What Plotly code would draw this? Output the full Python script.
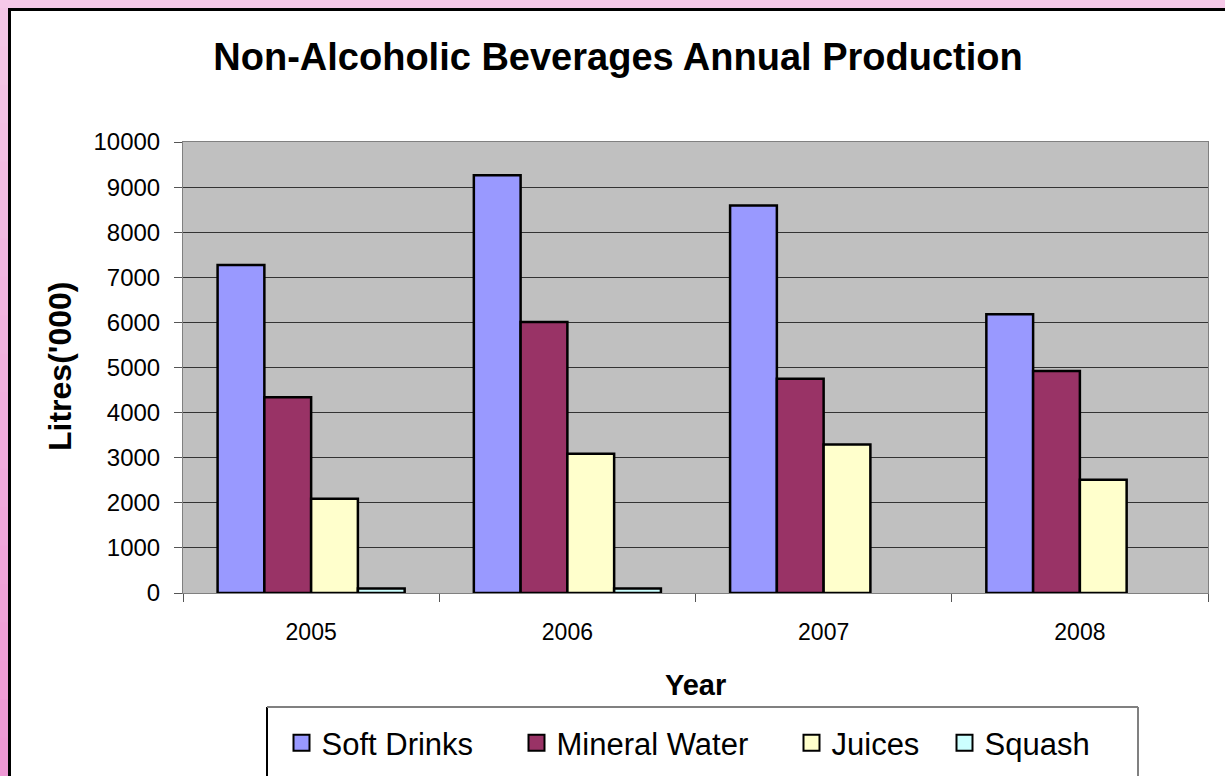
import plotly.graph_objects as go

# ---------------- data ----------------
years = ["2005", "2006", "2007", "2008"]
soft_drinks = [7270, 9260, 8590, 6180]
mineral_water = [4340, 6010, 4750, 4920]
juices = [2090, 3090, 3290, 2510]
squash = [100, 100, None, None]

series_names = ["Soft Drinks", "Mineral Water", "Juices", "Squash"]
series_values = [soft_drinks, mineral_water, juices, squash]
series_colors = ["#9999FF", "#993366", "#FFFFCC", "#CCFFFF"]
legend_widths = [190, 230, 108, 130]

y_ticks = [0, 1000, 2000, 3000, 4000, 5000, 6000, 7000, 8000, 9000, 10000]

# ---------------- layout geometry (pixels) ----------------
W_PX, H_PX = 1225, 776
L, R, T, B = 183, 17, 142, 183
PW = W_PX - L - R
PH = H_PX - T - B


def xp(px):
    return (px - L) / PW


def yp(py):
    return 1 - (py - T) / PH


FONT = "Arial, 'Liberation Sans', sans-serif"

fig = go.Figure()

for name, vals, col in zip(series_names, series_values, series_colors):
    fig.add_trace(go.Bar(
        x=years, y=vals, name=name,
        marker=dict(color=col, line=dict(color="#000000", width=2.5)),
        showlegend=False,
    ))

# legend entries (larger square swatches)
for name, col, lw in zip(series_names, series_colors, legend_widths):
    fig.add_trace(go.Scatter(
        x=[None], y=[None], mode="markers", name=name,
        marker=dict(symbol="square", size=16, color=col,
                    line=dict(color="#000000", width=2)),
        legendwidth=lw,
    ))

shapes = []
# pink surround and black border of the white chart area
shapes.append(dict(type="rect", xref="paper", yref="paper",
                   x0=xp(-2), x1=xp(W_PX + 5), y0=yp(-2), y1=yp(8),
                   fillcolor="#F5C9E8", line=dict(width=0), layer="above"))
n_seg = 20
c_top = (0xF4, 0xC6, 0xE6)
c_bot = (0xEE, 0x98, 0xD4)
for i in range(n_seg):
    f = i / (n_seg - 1)
    c = tuple(round(a + (b - a) * f) for a, b in zip(c_top, c_bot))
    y0 = 8 + (H_PX - 8) * i / n_seg
    y1 = 8 + (H_PX - 8) * (i + 1) / n_seg + 1
    shapes.append(dict(type="rect", xref="paper", yref="paper",
                       x0=xp(-2), x1=xp(8), y0=yp(y0), y1=yp(y1),
                       fillcolor="rgb(%d,%d,%d)" % c, line=dict(width=0),
                       layer="above"))
shapes.append(dict(type="line", xref="paper", yref="paper",
                   x0=xp(9.5), x1=xp(9.5), y0=yp(8), y1=yp(H_PX + 5),
                   line=dict(color="#000000", width=3), layer="above"))
shapes.append(dict(type="line", xref="paper", yref="paper",
                   x0=xp(8), x1=xp(W_PX + 5), y0=yp(9.5), y1=yp(9.5),
                   line=dict(color="#000000", width=3), layer="above"))
# legend box
shapes.append(dict(type="line", xref="paper", yref="paper",
                   x0=xp(267), x1=xp(267), y0=yp(707), y1=yp(H_PX + 5),
                   line=dict(color="#000000", width=2), layer="above"))
shapes.append(dict(type="line", xref="paper", yref="paper",
                   x0=xp(267), x1=xp(1138), y0=yp(707), y1=yp(707),
                   line=dict(color="#808080", width=2), layer="above"))
shapes.append(dict(type="line", xref="paper", yref="paper",
                   x0=xp(1138), x1=xp(1138), y0=yp(707), y1=yp(H_PX + 5),
                   line=dict(color="#808080", width=2), layer="above"))

annotations = [
    dict(text="<b>Litres('000)</b>", xref="paper", yref="paper",
         x=xp(60), y=yp(367), xanchor="center", yanchor="middle",
         textangle=-90, showarrow=False,
         font=dict(family=FONT, size=32, color="#000000")),
    dict(text="<b>Year</b>", xref="paper", yref="paper",
         x=xp(695), y=yp(685), xanchor="center", yanchor="middle",
         showarrow=False,
         font=dict(family=FONT, size=29, color="#000000")),
]

fig.update_layout(
    width=W_PX, height=H_PX,
    margin=dict(l=L, r=R, t=T, b=B, pad=0, autoexpand=False),
    paper_bgcolor="#FFFFFF",
    plot_bgcolor="#C0C0C0",
    barmode="group",
    bargap=0.27,
    bargroupgap=0,
    title=dict(text="<b>Non-Alcoholic Beverages Annual Production</b>",
               x=618 / W_PX, xanchor="center", xref="container",
               y=1 - 57 / H_PX, yanchor="middle", yref="container",
               font=dict(family=FONT, size=38, color="#000000")),
    font=dict(family=FONT, color="#000000"),
    showlegend=True,
    legend=dict(orientation="h", xref="container", yref="container",
                x=281.5 / W_PX, xanchor="left",
                y=1 - 743 / H_PX, yanchor="middle",
                font=dict(family=FONT, size=31, color="#000000"),
                bgcolor="rgba(0,0,0,0)", borderwidth=0,
                itemclick=False, itemdoubleclick=False),
    xaxis=dict(type="category", range=[-0.5, 3.5], automargin=False,
               tickson="boundaries", ticks="outside", ticklen=8,
               tickcolor="#555555", tickwidth=1,
               showgrid=False, showline=True, linecolor="#808080",
               linewidth=1, mirror=True, zeroline=False,
               tickfont=dict(family=FONT, size=23, color="#000000"),
               ticklabelstandoff=18, fixedrange=True),
    yaxis=dict(range=[0, 10000], tickvals=y_ticks, tickformat="d",
               automargin=False,
               ticks="outside", ticklen=8, tickcolor="#555555", tickwidth=1,
               showgrid=True, gridcolor="#333333", gridwidth=1,
               showline=True, linecolor="#808080", linewidth=1,
               mirror=True, zeroline=False,
               tickfont=dict(family=FONT, size=24, color="#000000"),
               ticklabelstandoff=9, fixedrange=True),
    shapes=shapes,
    annotations=annotations,
)

fig.write_html("out.html",
               config={"displayModeBar": False},
               post_script="document.body.style.margin='0px';"
                           "document.body.style.overflow='hidden';")
